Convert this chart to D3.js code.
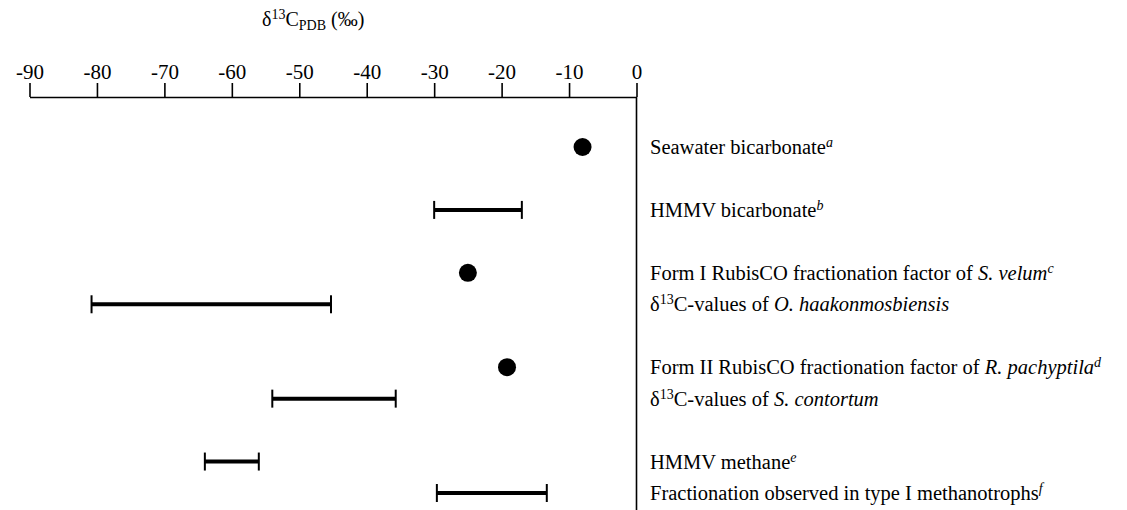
<!DOCTYPE html>
<html>
<head>
<meta charset="utf-8">
<script src="https://cdn.jsdelivr.net/npm/d3@7"></script>
<style>
  body { margin:0; background:#fff; }
  svg { display:block; font-family:"Liberation Serif","Times New Roman",serif; }
  .axis text { font-size:21px; fill:#000; font-family:"Liberation Serif","Times New Roman",serif; }
  .axis path, .axis line { stroke:#000; stroke-width:1.6px; }
  .lbl { font-size:20.5px; fill:#000; }
  .ttl { font-size:20px; fill:#000; }
</style>
</head>
<body>
<div id="canvas"></div>
<script>
// rows, top to bottom
var rowLabels = [
  "Seawater bicarbonate<sup><i>a</i></sup>",
  "HMMV bicarbonate<sup><i>b</i></sup>",
  "Form I RubisCO fractionation factor of <i>S. velum</i><sup><i>c</i></sup>",
  "δ<sup>13</sup>C-values of <i>O. haakonmosbiensis</i>",
  "Form II RubisCO fractionation factor of <i>R. pachyptila</i><sup><i>d</i></sup>",
  "δ<sup>13</sup>C-values of <i>S. contortum</i>",
  "HMMV methane<sup><i>e</i></sup>",
  "Fractionation observed in type I methanotrophs<sup><i>f</i></sup>"
];
var rowGroup  = [0, 1, 2, 2, 3, 3, 4, 4];
var markType  = ["dot", "range", "dot", "range", "dot", "range", "range", "range"];
var lowValue  = [-8, -30, -25, -80.8, -19.2, -54, -64, -29.6];
var highValue = [-8, -17, -25, -45.3, -19.2, -35.7, -56, -13.3];
var tickValues = [-90, -80, -70, -60, -50, -40, -30, -20, -10, 0];

var W = 1127, H = 510;
var svg = d3.select('#canvas').append('svg')
    .attr('width', W).attr('height', H);

var x = d3.scaleLinear().domain([-90, 0]).range([29.5, 636.5]);

// slot index: new group -> +2, same group -> +1
var slots = [];
rowGroup.forEach(function(g, i){
  if (i === 0) slots.push(0);
  else slots.push(slots[i-1] + (g === rowGroup[i-1] ? 1 : 2));
});
var y = d3.scaleLinear().domain([0, d3.max(slots)]).range([147, 493]);

var rows = rowLabels.map(function(l, i){
  return {label:l, slot:slots[i], type:markType[i], lo:lowValue[i], hi:highValue[i]};
});

// title
var title = svg.append('text').attr('class', 'ttl')
    .attr('x', 262).attr('y', 26);
addRich(title, "δ<sup>13</sup>C<sub>PDB</sub> (‰)");

// axis
var axisY = 97;
var axis = d3.axisTop(x).tickValues(tickValues).tickSize(14).tickSizeOuter(0).tickPadding(4)
    .tickFormat(function(d){ return String(d); });
svg.append('g').attr('class', 'axis')
    .attr('transform', 'translate(0,' + axisY + ')')
    .call(axis);

// vertical zero line
svg.append('line')
    .attr('x1', x(0)).attr('x2', x(0))
    .attr('y1', axisY).attr('y2', H)
    .attr('stroke', '#000').attr('stroke-width', 1.6);

// dots
svg.selectAll('.dot')
    .data(rows.filter(function(d){ return d.type === 'dot'; }))
    .enter().append('circle')
    .attr('class', 'dot')
    .attr('cx', function(d){ return x(d.lo); })
    .attr('cy', function(d){ return y(d.slot); })
    .attr('r', 9)
    .attr('fill', '#000');

// ranges
var rg = svg.selectAll('.range')
    .data(rows.filter(function(d){ return d.type === 'range'; }))
    .enter().append('g').attr('class', 'range');
rg.append('line')
    .attr('x1', function(d){ return x(d.lo); })
    .attr('x2', function(d){ return x(d.hi); })
    .attr('y1', function(d){ return y(d.slot); })
    .attr('y2', function(d){ return y(d.slot); })
    .attr('stroke', '#000').attr('stroke-width', 4);
[ 'lo', 'hi' ].forEach(function(k){
  rg.append('line')
    .attr('x1', function(d){ return x(d[k]); })
    .attr('x2', function(d){ return x(d[k]); })
    .attr('y1', function(d){ return y(d.slot) - 9; })
    .attr('y2', function(d){ return y(d.slot) + 9; })
    .attr('stroke', '#000').attr('stroke-width', 2);
});

// labels
svg.selectAll('.rowlbl')
    .data(rows)
    .enter().append('text')
    .attr('class', 'lbl rowlbl')
    .attr('x', 650)
    .attr('y', function(d){ return y(d.slot) + 7; })
    .each(function(d){ addRich(d3.select(this), d.label); });

// tiny markup -> tspans
function addRich(sel, str){
  var parts = str.split(/(<\/?\w+>)/).filter(function(s){ return s.length; });
  var st = {i:false, sup:false, sub:false};
  var pendingShift = 0;
  parts.forEach(function(p){
    var m = p.match(/^<(\/?)(\w+)>$/);
    if (m) { st[m[2]] = !m[1]; return; }
    var t = sel.append('tspan').text(p);
    if (st.i) t.attr('font-style', 'italic');
    var shift = st.sup ? -7 : (st.sub ? 4 : 0);
    if (st.sup || st.sub) t.attr('font-size', '14px');
    if (shift !== pendingShift) { t.attr('dy', shift - pendingShift); pendingShift = shift; }
  });
}
</script>
</body>
</html>
